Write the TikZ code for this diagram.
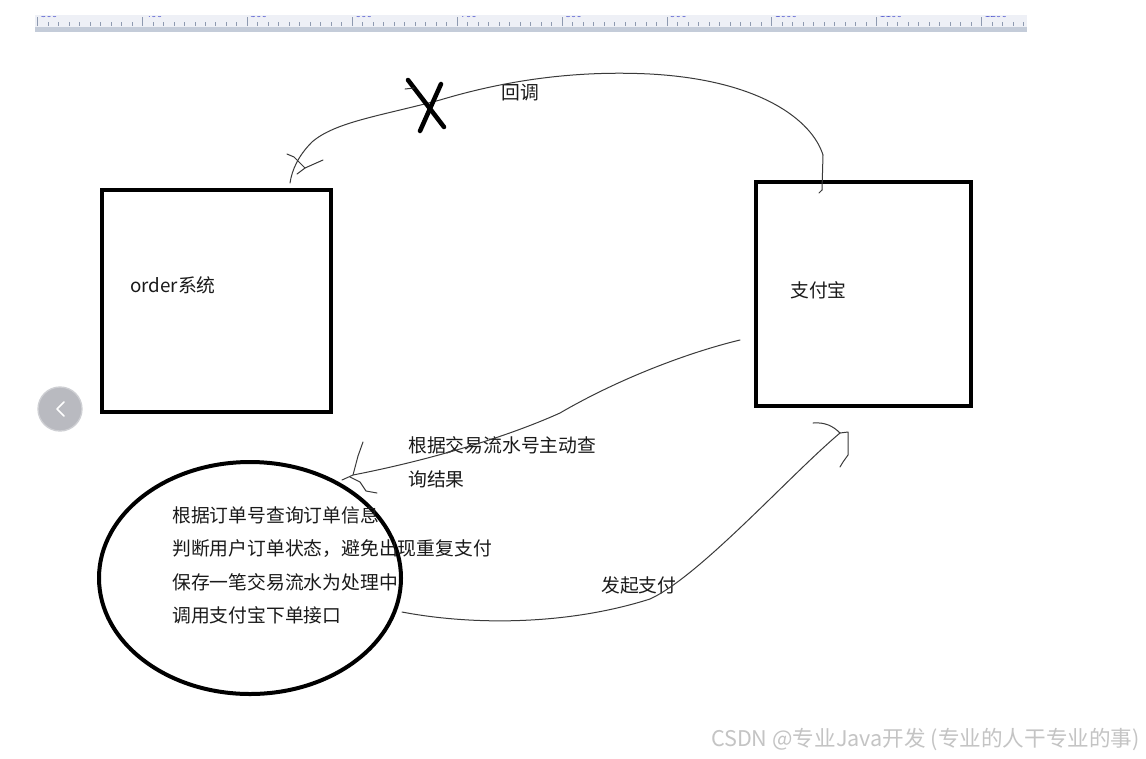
\documentclass[tikz,border=0pt]{standalone}
\usepackage{fontspec}
\setmainfont{Noto Sans CJK SC}
\definecolor{ink}{HTML}{1A1A1A}
\definecolor{pen}{HTML}{3A3A3A}
\definecolor{rulerlight}{HTML}{EEF0F6}
\definecolor{rulerdark}{HTML}{C4CCD9}
\definecolor{tick}{HTML}{8E9AB0}
\definecolor{btn}{HTML}{B9BAC0}
\definecolor{wm}{HTML}{C4C4C4}
\tikzset{
  box/.style={draw=black, line width=3pt},
  lbl/.style={font=\fontsize{14.1pt}{16pt}\selectfont, text=ink, inner sep=0pt, anchor=west},
  penline/.style={draw=pen, line width=0.75pt, line join=round, line cap=round},
}
\begin{document}
\begin{tikzpicture}[x=0.75pt,y=-0.75pt]
\useasboundingbox (0,0) rectangle (1146,758);
\fill[white] (0,0) rectangle (1146,758);
% ruler
\fill[rulerlight] (35,15) rectangle (1027,27);
\fill[rulerdark] (35,27) rectangle (1027,32);
\begin{scope}
\clip (35,16) rectangle (1027,27);
\foreach \i [count=\k from 0] in {300,400,...,1200} {
  \pgfmathsetmacro{\xx}{37.5+104.9*\k}
  \draw[tick, line width=0.6pt] (\xx,17) -- (\xx,26);
  \node[font=\fontsize{7.5pt}{8pt}\selectfont, text=tick!60!blue, inner sep=0pt, anchor=base west] at (\xx+3,17.5) {\i};
  \foreach \j in {1,...,9} {
    \draw[tick, line width=0.5pt] (\xx+10.49*\j,22) -- (\xx+10.49*\j,26);
  }
}
\end{scope}
% boxes
\node[box, minimum width=172pt, minimum height=166.5pt, inner sep=0pt] (order) at (216.5,301) {};
\node[box, minimum width=161pt, minimum height=168pt, inner sep=0pt] (alipay) at (863.5,294) {};
\node[lbl] (ordert) at (130,285) {order系统};
\node[lbl] (alit) at (790,290) {支付宝};
% ellipse
\draw[black, line width=3pt] (250,578) ellipse [x radius=151, y radius=116];
\node[lbl] (l1) at (172,515) {根据订单号查询订单信息};
\node[lbl] (l2) at (172,549) {判断用户订单状态，避免出现重复支付};
\node[lbl] (l3) at (172,582) {保存一笔交易流水为处理中};
\node[lbl] (l4) at (172,615) {调用支付宝下单接口};
\coordinate (ell) at (402,612);
% labels of connectors
\node[lbl] (cb) at (501,93) {回调};
\node[lbl] (q1) at (408,445) {根据交易流水号主动查};
\node[lbl] (q2) at (408,479) {询结果};
\node[lbl] (pay) at (601,585) {发起支付};
% callback curve
\coordinate (cbS) at (822,190);
\coordinate (cbE) at (290,183);
\draw[penline] (cbS) -- (823,155) .. controls (812,120) and (760,80) .. (650,74)
  .. controls (570,70) and (500,82) .. (440,100)
  .. controls (380,116) and (335,122) .. (312,142)
  .. controls (298,156) and (292,170) .. (cbE);
\draw[penline] (cbS) -- (819,193);
\draw[penline] (287,154) -- (294,157) -- (305,168);
\draw[penline] (305,168) -- (323,160);
\draw[penline] (297,174) -- (305,168);
% big X
\draw[black, line width=3.4pt, line cap=round] (408,80) -- (444,127);
\draw[black, line width=3.4pt, line cap=round] (441,84) -- (420,131);
\draw[penline] (405,89) -- (414,88);
% query curve
\coordinate (qS) at (740,340);
\coordinate (qE) at (342,480);
\draw[penline] (qS) .. controls (690,352) and (620,378) .. (560,413)
  .. controls (500,440) and (420,462) .. (353,475) -- (qE);
\draw[penline] (353,475) -- (358,456) -- (363,442);
\draw[penline] (350,477) -- (360,482) -- (366,491) -- (377,493);
% pay curve
\coordinate (pE) at (840,433);
\draw[penline] (ell) .. controls (470,625) and (565,626) .. (650,599)
  .. controls (700,576) and (790,475) .. (pE);
\draw[penline] (813,423) .. controls (825,422) and (833,426) .. (pE);
\draw[penline] (pE) -- (848,432) -- (848,455) -- (843,462) -- (840,467);
% nav button
\node[circle, fill=btn, draw=btn!70!white, line width=1pt, minimum size=44pt*0.75, inner sep=0pt] (navbtn) at (60,409) {};
\draw[white, line width=1.3pt, line cap=round, line join=round] ([shift={(4,-7)}]navbtn.center) -- ([shift={(-3,0)}]navbtn.center) -- ([shift={(4,7)}]navbtn.center);
% watermark
\node[font=\fontsize{16.2pt}{18pt}\selectfont, text=wm, inner sep=0pt, anchor=east] (wmark) at (1140,739) {CSDN @专业Java开发 (专业的人干专业的事)};
\end{tikzpicture}
\end{document}
